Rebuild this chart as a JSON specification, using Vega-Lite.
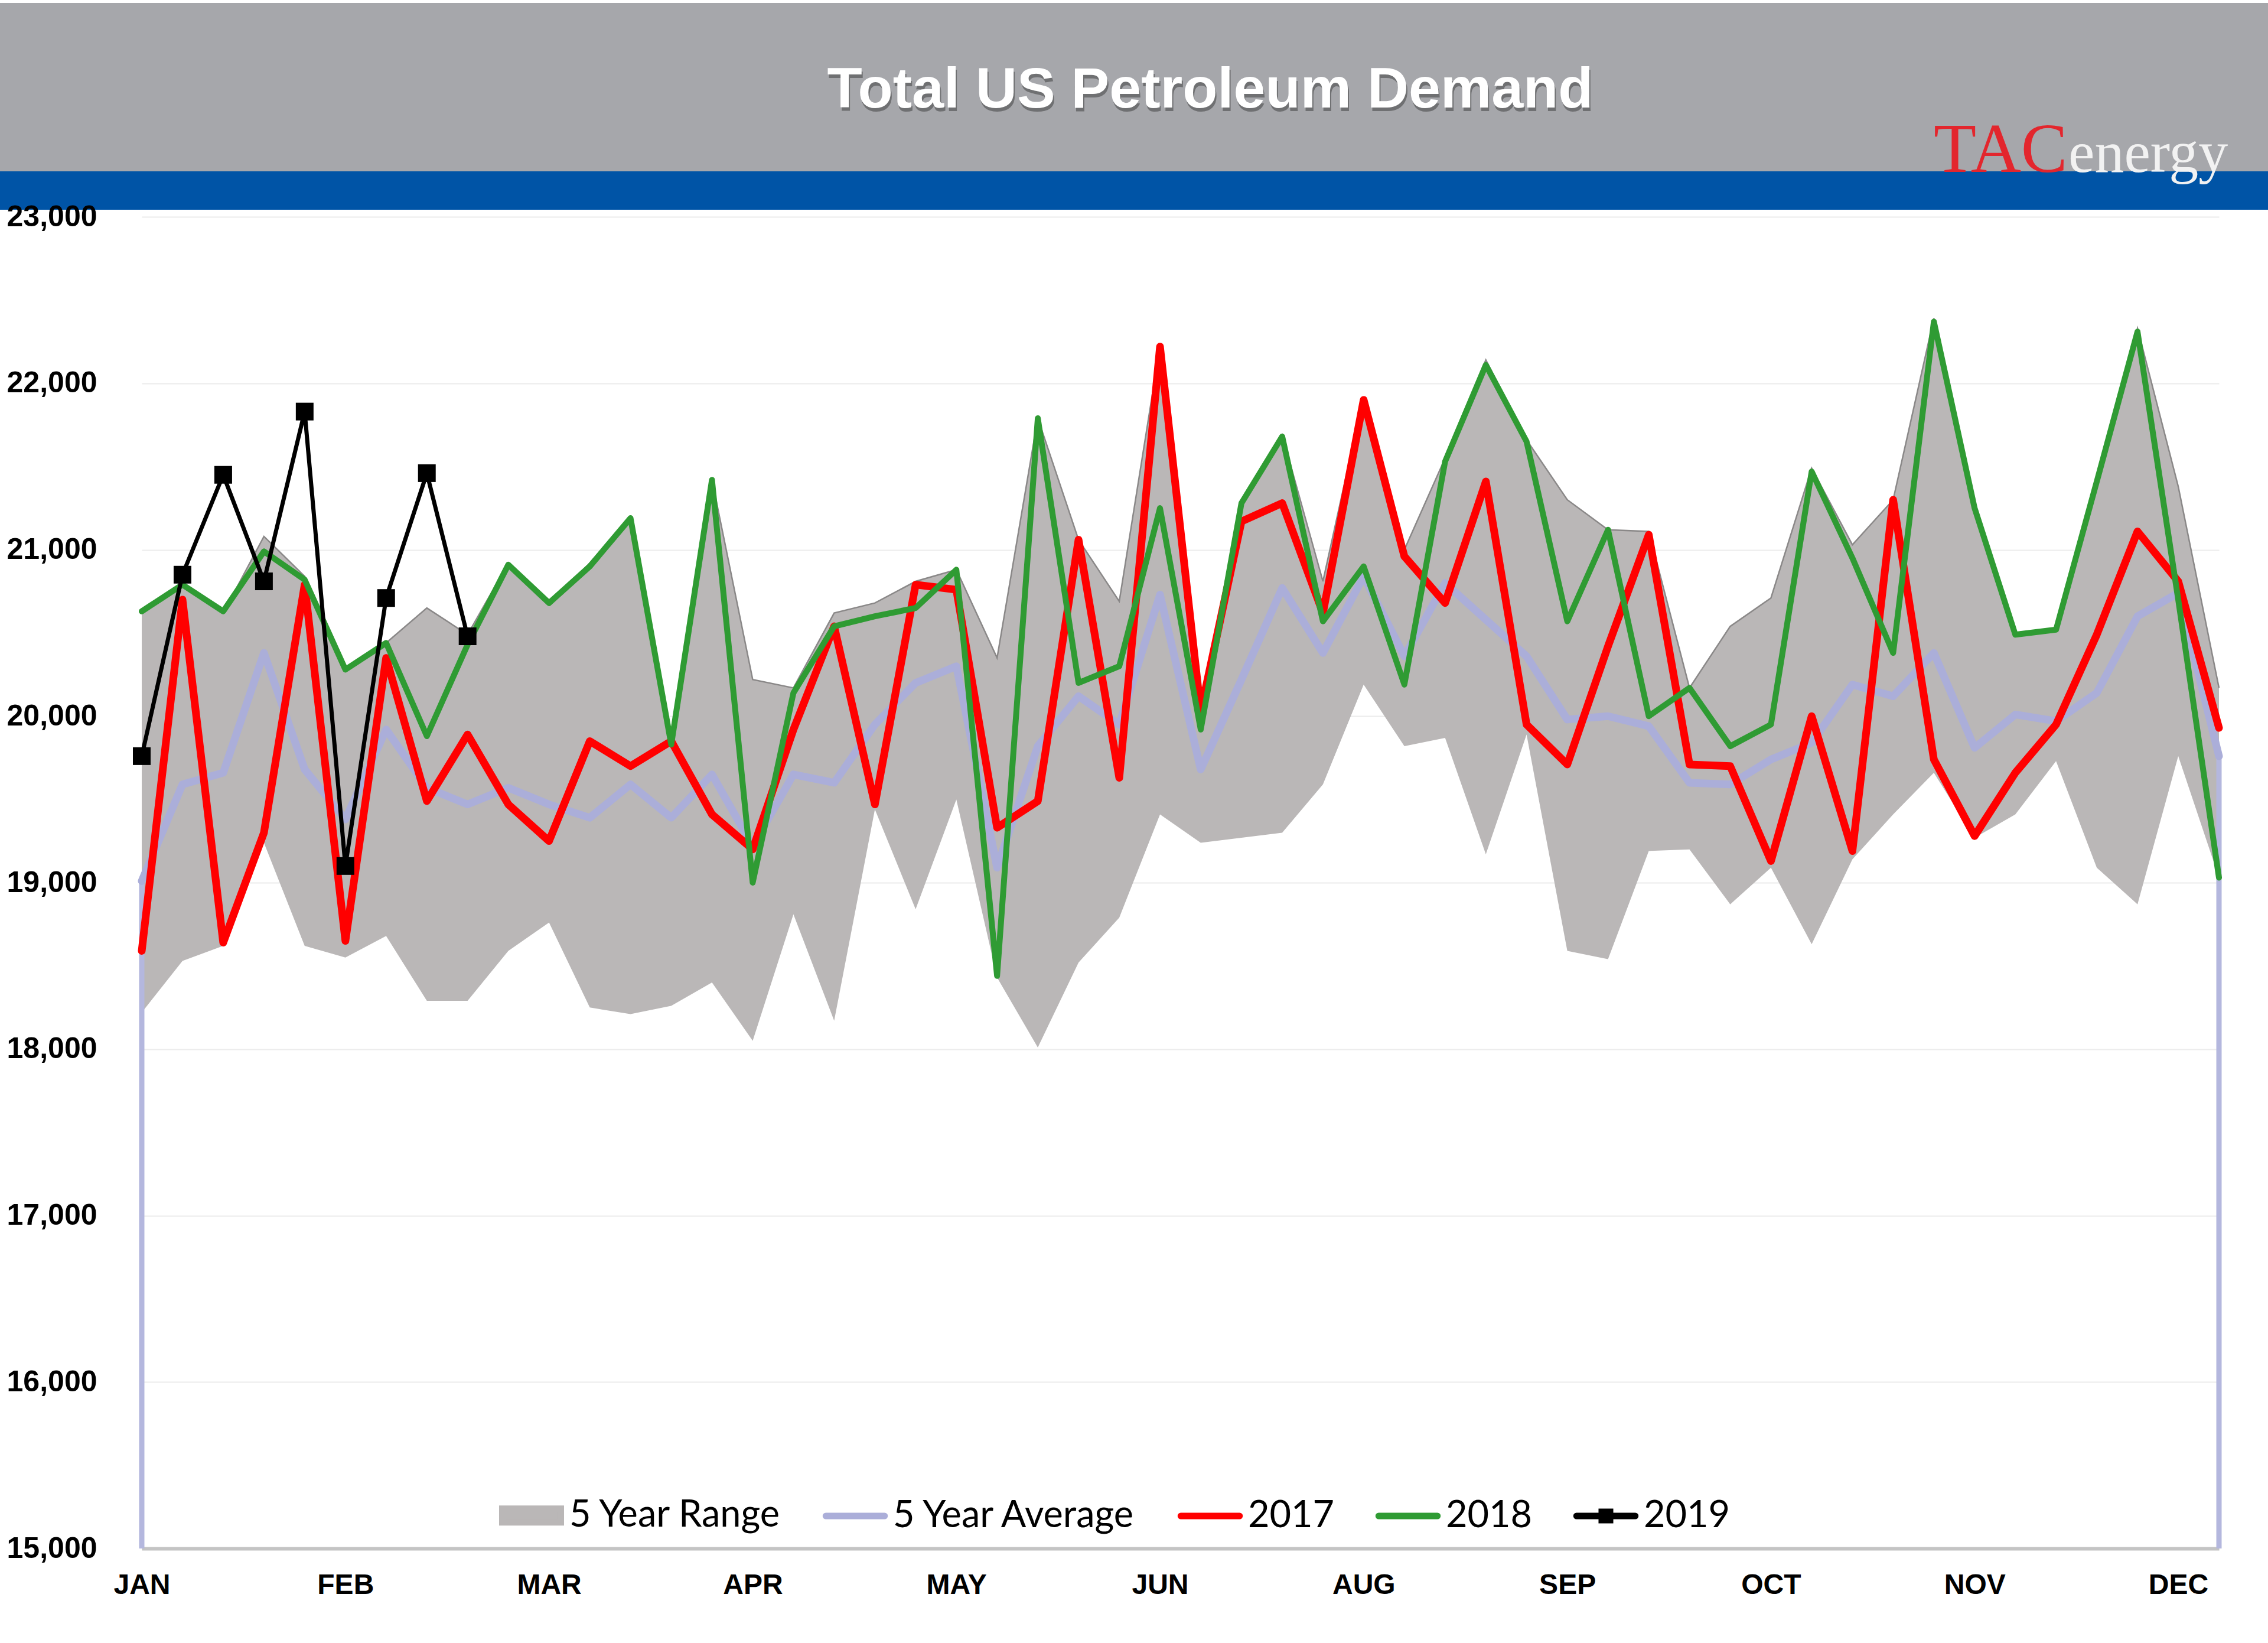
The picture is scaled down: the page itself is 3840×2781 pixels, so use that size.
{
  "$schema": "https://vega.github.io/schema/vega-lite/v6.json",
  "background": "white",
  "padding": {"top": 5, "left": 0, "right": 0, "bottom": 0},
  "bounds": "flush",
  "spacing": 0,
  "config": {"view": {"stroke": null}},
  "datasets": {
    "demand": [
      {"week": 1, "lo": 18220, "hi": 20620, "avg": 19010, "y2017": 18590, "y2018": 20630, "y2019": 19760},
      {"week": 2, "lo": 18530, "hi": 20790, "avg": 19590, "y2017": 20700, "y2018": 20790, "y2019": 20850},
      {"week": 3, "lo": 18620, "hi": 20620, "avg": 19660, "y2017": 18640, "y2018": 20630, "y2019": 21450},
      {"week": 4, "lo": 19240, "hi": 21080, "avg": 20380, "y2017": 19300, "y2018": 20990, "y2019": 20810},
      {"week": 5, "lo": 18620, "hi": 20840, "avg": 19680, "y2017": 20790, "y2018": 20820, "y2019": 21830},
      {"week": 6, "lo": 18550, "hi": 20280, "avg": 19380, "y2017": 18650, "y2018": 20280, "y2019": 19100},
      {"week": 7, "lo": 18680, "hi": 20440, "avg": 19920, "y2017": 20350, "y2018": 20440, "y2019": 20710},
      {"week": 8, "lo": 18290, "hi": 20650, "avg": 19570, "y2017": 19490, "y2018": 19880, "y2019": 21460},
      {"week": 9, "lo": 18290, "hi": 20490, "avg": 19470, "y2017": 19890, "y2018": 20430, "y2019": 20480},
      {"week": 10, "lo": 18590, "hi": 20920, "avg": 19570, "y2017": 19470, "y2018": 20910},
      {"week": 11, "lo": 18760, "hi": 20680, "avg": 19470, "y2017": 19250, "y2018": 20680},
      {"week": 12, "lo": 18250, "hi": 20920, "avg": 19390, "y2017": 19850, "y2018": 20900},
      {"week": 13, "lo": 18210, "hi": 21200, "avg": 19590, "y2017": 19700, "y2018": 21190},
      {"week": 14, "lo": 18260, "hi": 19880, "avg": 19390, "y2017": 19850, "y2018": 19830},
      {"week": 15, "lo": 18400, "hi": 21420, "avg": 19650, "y2017": 19410, "y2018": 21420},
      {"week": 16, "lo": 18050, "hi": 20220, "avg": 19220, "y2017": 19200, "y2018": 19000},
      {"week": 17, "lo": 18810, "hi": 20170, "avg": 19650, "y2017": 19920, "y2018": 20140},
      {"week": 18, "lo": 18170, "hi": 20620, "avg": 19600, "y2017": 20540, "y2018": 20540},
      {"week": 19, "lo": 19440, "hi": 20680, "avg": 19950, "y2017": 19470, "y2018": 20600},
      {"week": 20, "lo": 18840, "hi": 20810, "avg": 20200, "y2017": 20790, "y2018": 20650},
      {"week": 21, "lo": 19500, "hi": 20880, "avg": 20300, "y2017": 20760, "y2018": 20880},
      {"week": 22, "lo": 18430, "hi": 20350, "avg": 19090, "y2017": 19330, "y2018": 18440},
      {"week": 23, "lo": 18010, "hi": 21790, "avg": 19820, "y2017": 19490, "y2018": 21790},
      {"week": 24, "lo": 18520, "hi": 21060, "avg": 20120, "y2017": 21060, "y2018": 20200},
      {"week": 25, "lo": 18790, "hi": 20690, "avg": 19950, "y2017": 19630, "y2018": 20300},
      {"week": 26, "lo": 19410, "hi": 22220, "avg": 20730, "y2017": 22220, "y2018": 21250},
      {"week": 27, "lo": 19240, "hi": 20050, "avg": 19680, "y2017": 20030, "y2018": 19920},
      {"week": 28, "lo": 19270, "hi": 21300, "avg": 20220, "y2017": 21170, "y2018": 21280},
      {"week": 29, "lo": 19300, "hi": 21690, "avg": 20770, "y2017": 21280, "y2018": 21680},
      {"week": 30, "lo": 19590, "hi": 20810, "avg": 20380, "y2017": 20620, "y2018": 20570},
      {"week": 31, "lo": 20190, "hi": 21920, "avg": 20840, "y2017": 21900, "y2018": 20900},
      {"week": 32, "lo": 19820, "hi": 21000, "avg": 20360, "y2017": 20960, "y2018": 20190},
      {"week": 33, "lo": 19870, "hi": 21550, "avg": 20800, "y2017": 20680, "y2018": 21530},
      {"week": 34, "lo": 19170, "hi": 22140, "avg": 20580, "y2017": 21410, "y2018": 22110},
      {"week": 35, "lo": 19890, "hi": 21660, "avg": 20360, "y2017": 19950, "y2018": 21650},
      {"week": 36, "lo": 18590, "hi": 21300, "avg": 19980, "y2017": 19710, "y2018": 20570},
      {"week": 37, "lo": 18540, "hi": 21120, "avg": 20000, "y2017": 20420, "y2018": 21120},
      {"week": 38, "lo": 19190, "hi": 21110, "avg": 19940, "y2017": 21090, "y2018": 20000},
      {"week": 39, "lo": 19200, "hi": 20170, "avg": 19600, "y2017": 19710, "y2018": 20170},
      {"week": 40, "lo": 18870, "hi": 20540, "avg": 19590, "y2017": 19700, "y2018": 19820},
      {"week": 41, "lo": 19090, "hi": 20710, "avg": 19740, "y2017": 19130, "y2018": 19950},
      {"week": 42, "lo": 18630, "hi": 21490, "avg": 19840, "y2017": 20000, "y2018": 21470},
      {"week": 43, "lo": 19140, "hi": 21030, "avg": 20190, "y2017": 19190, "y2018": 20950},
      {"week": 44, "lo": 19410, "hi": 21300, "avg": 20120, "y2017": 21300, "y2018": 20380},
      {"week": 45, "lo": 19660, "hi": 22390, "avg": 20380, "y2017": 19740, "y2018": 22370},
      {"week": 46, "lo": 19270, "hi": 21270, "avg": 19810, "y2017": 19280, "y2018": 21250},
      {"week": 47, "lo": 19410, "hi": 20490, "avg": 20010, "y2017": 19660, "y2018": 20490},
      {"week": 48, "lo": 19730, "hi": 20520, "avg": 19970, "y2017": 19950, "y2018": 20520},
      {"week": 49, "lo": 19090, "hi": 21440, "avg": 20140, "y2017": 20490, "y2018": 21410},
      {"week": 50, "lo": 18870, "hi": 22330, "avg": 20600, "y2017": 21110, "y2018": 22310},
      {"week": 51, "lo": 19760, "hi": 21380, "avg": 20740, "y2017": 20810, "y2018": 20700},
      {"week": 52, "lo": 19030, "hi": 20170, "avg": 19760, "y2017": 19930, "y2018": 19030}
    ]
  },
  "vconcat": [
    {
      "width": 3840,
      "height": 285,
      "view": {"fill": "#a6a7ab", "stroke": null},
      "data": {"values": [{}]},
      "layer": [
        {"mark": {"type": "text", "text": "Total US Petroleum Demand", "font": "Liberation Sans", "fontWeight": "bold", "fontSize": 97, "color": "#3a3a3a", "opacity": 0.5, "align": "center", "baseline": "middle", "dx": 131, "dy": 11}},
        {"mark": {"type": "text", "text": "Total US Petroleum Demand", "font": "Liberation Sans", "fontWeight": "bold", "fontSize": 97, "color": "#ffffff", "align": "center", "baseline": "middle", "dx": 129, "dy": 5}}
      ]
    },
    {
      "width": 3840,
      "height": 65,
      "view": {"fill": "#0054a6", "stroke": null},
      "data": {"values": [{}]},
      "layer": [
        {"mark": {"type": "text", "text": "TAC", "font": "Liberation Serif", "fontSize": 118, "color": "#e3262d", "align": "left", "baseline": "alphabetic", "dx": 1354, "dy": -32}},
        {"mark": {"type": "text", "text": "energy", "font": "Liberation Serif", "fontSize": 100, "color": "#f2f2f2", "align": "left", "baseline": "alphabetic", "dx": 1582, "dy": -32}}
      ]
    },
    {
      "width": 3840,
      "height": 12,
      "data": {"values": [{}]},
      "mark": {"type": "text", "text": ""}
    },
    {
      "spacing": 0,
      "bounds": "flush",
      "hconcat": [
        {
          "width": 240,
          "height": 2254,
          "data": {"values": [{}]},
          "mark": {"type": "text", "text": ""}
        },
        {
          "width": 3517,
          "height": 2254,
          "data": {"name": "demand"},
          "encoding": {
            "x": {
              "field": "week",
              "type": "quantitative",
              "title": null,
              "scale": {"domain": [1, 52], "nice": false, "zero": false},
              "axis": {
                "values": [1, 6, 11, 16, 21, 26, 31, 36, 41, 46, 51],
                "labelExpr": "['JAN','FEB','MAR','APR','MAY','JUN','AUG','SEP','OCT','NOV','DEC'][round((datum.value-1)/5)]",
                "labelFlush": false,
                "labelFont": "Liberation Sans",
                "labelFontWeight": "bold",
                "labelFontSize": 48,
                "labelColor": "#000000",
                "labelPadding": 38,
                "ticks": false,
                "grid": false,
                "domainColor": "#c4c4c4",
                "domainWidth": 6
              }
            }
          },
          "layer": [
            {
              "mark": {"type": "area", "opacity": 1},
              "encoding": {
                "y": {
                  "field": "lo",
                  "type": "quantitative",
                  "title": null,
                  "scale": {"domain": [15000, 23000], "nice": false, "zero": false},
                  "axis": {
                    "values": [15000, 16000, 17000, 18000, 19000, 20000, 21000, 22000, 23000],
                    "labelExpr": "format(datum.value, ',')",
                    "labelFlush": false,
                    "labelFont": "Liberation Sans",
                    "labelFontWeight": "bold",
                    "labelFontSize": 50,
                    "labelColor": "#000000",
                    "labelPadding": 76,
                    "ticks": false,
                    "domain": false,
                    "grid": true,
                    "gridColor": "#ececec",
                    "gridWidth": 2
                  }
                },
                "y2": {"field": "hi"},
                "color": {
                  "datum": "range",
                  "type": "nominal",
                  "scale": {
                    "domain": ["range", "avg", "y2017", "y2018", "y2019"],
                    "range": ["#bab7b7", "#abaed9", "#ff0000", "#2f9b33", "#000000"]
                  },
                  "legend": {
                    "orient": "none", "legendX": 836, "legendY": 2496, "direction": "horizontal", "columns": 5, "title": null, "padding": 0,
                    "labelFont": "Lato", "labelFontSize": 63, "labelColor": "#000000", "labelLimit": 1000, "labelOffset": 0, "columnPadding": 52,
                    "symbolSize": 13689, "symbolType": "stroke", "symbolStrokeWidth": 11,
                    "labelExpr": "{'range':'5 Year Range','avg':'5 Year Average','y2017':'2017','y2018':'2018','y2019':'2019'}[datum.label]",
                    "encode": {"symbols": {"update": {
                      "shape": {"signal": "datum.value === 'range' ? 'M-0.846,-0.197H0.846V0.197H-0.846Z' : (datum.value === 'y2019' ? 'M-0.85,0H0.85M-0.12,-0.12H0.12V0.12H-0.12Z' : 'M-0.85,0H0.85')"},
                      "fill": {"signal": "datum.value === 'range' ? '#d4d2d2' : (datum.value === 'y2019' ? '#000000' : 'transparent')"},
                      "stroke": {"signal": "{'range':'#bdbbbb','avg':'#abaed9','y2017':'#ff0000','y2018':'#2f9b33','y2019':'#000000'}[datum.value]"},
                      "strokeCap": {"value": "round"}
                    }}}
                  }
                }
              }
            },
            {
              "mark": {"type": "line", "color": "#8a8888", "strokeWidth": 2.5},
              "encoding": {
                "y": {"field": "hi", "type": "quantitative", "title": null}
              }
            },
            {
              "transform": [{"filter": "datum.week == 1 || datum.week == 52"}],
              "mark": {"type": "rule", "color": "#b4b7de", "strokeWidth": 9},
              "encoding": {
                "y": {"field": "avg", "type": "quantitative", "title": null},
                "y2": {"datum": 15000}
              }
            },
            {
              "mark": {"type": "line", "strokeWidth": 13, "strokeJoin": "round", "strokeCap": "round"},
              "encoding": {
                "y": {"field": "avg", "type": "quantitative", "title": null},
                "color": {"datum": "avg", "type": "nominal",
                  "legend": {
                    "orient": "none", "legendX": 836, "legendY": 2496, "direction": "horizontal", "columns": 5, "title": null, "padding": 0,
                    "labelFont": "Lato", "labelFontSize": 63, "labelColor": "#000000", "labelLimit": 1000, "labelOffset": 0, "columnPadding": 52,
                    "symbolSize": 13689, "symbolType": "stroke", "symbolStrokeWidth": 11,
                    "labelExpr": "{'range':'5 Year Range','avg':'5 Year Average','y2017':'2017','y2018':'2018','y2019':'2019'}[datum.label]",
                    "encode": {"symbols": {"update": {
                      "shape": {"signal": "datum.value === 'range' ? 'M-0.846,-0.197H0.846V0.197H-0.846Z' : (datum.value === 'y2019' ? 'M-0.85,0H0.85M-0.12,-0.12H0.12V0.12H-0.12Z' : 'M-0.85,0H0.85')"},
                      "fill": {"signal": "datum.value === 'range' ? '#d4d2d2' : (datum.value === 'y2019' ? '#000000' : 'transparent')"},
                      "stroke": {"signal": "{'range':'#bdbbbb','avg':'#abaed9','y2017':'#ff0000','y2018':'#2f9b33','y2019':'#000000'}[datum.value]"},
                      "strokeCap": {"value": "round"}
                    }}}
                  }
                }
              }
            },
            {
              "mark": {"type": "line", "strokeWidth": 13, "strokeJoin": "round", "strokeCap": "round"},
              "encoding": {
                "y": {"field": "y2017", "type": "quantitative", "title": null},
                "color": {"datum": "y2017", "type": "nominal"}
              }
            },
            {
              "mark": {"type": "line", "strokeWidth": 10, "strokeJoin": "round", "strokeCap": "round"},
              "encoding": {
                "y": {"field": "y2018", "type": "quantitative", "title": null},
                "color": {"datum": "y2018", "type": "nominal"}
              }
            },
            {
              "transform": [{"filter": "isValid(datum.y2019)"}],
              "mark": {"type": "line", "strokeWidth": 7, "strokeJoin": "round", "point": {"shape": "square", "size": 900, "filled": true}},
              "encoding": {
                "y": {"field": "y2019", "type": "quantitative", "title": null},
                "color": {"datum": "y2019", "type": "nominal"}
              }
            }
          ]
        }
      ]
    }
  ]
}
